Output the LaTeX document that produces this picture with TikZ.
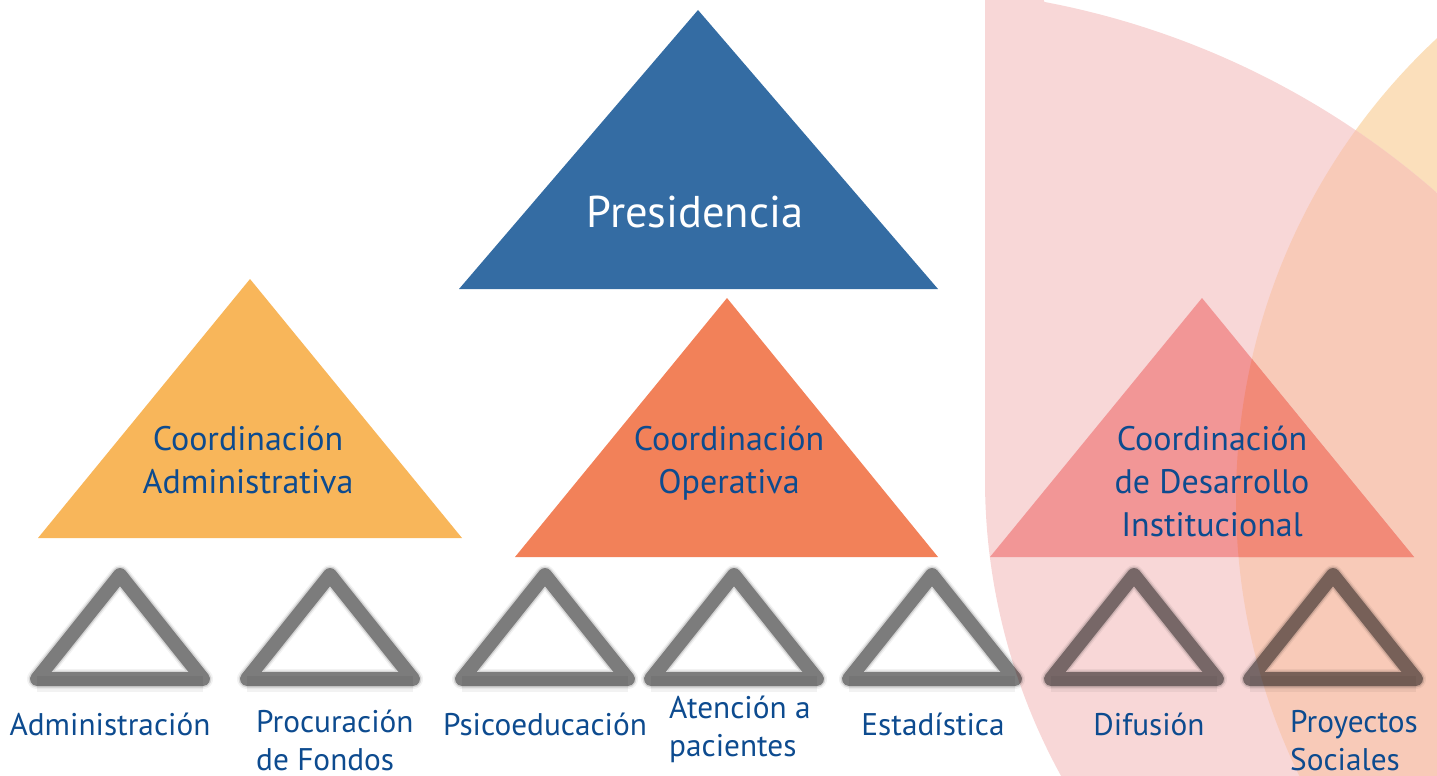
\documentclass[tikz,border=0pt]{standalone}
\usepackage{fontspec}
\setmainfont{PT Sans}
\definecolor{txtblue}{HTML}{0D4B8F}
\definecolor{presblue}{HTML}{346CA3}
\definecolor{admyel}{HTML}{F8B65A}
\definecolor{opor}{HTML}{F28159}
\definecolor{desp}{HTML}{F29696}
\definecolor{despo}{HTML}{F28A78}
\definecolor{pinkbg}{HTML}{F8D7D7}
\definecolor{orbg}{HTML}{FBDFBB}
\definecolor{peach}{HTML}{F8CAB8}
\tikzset{
 lbl/.style={text=txtblue, font=\fontsize{31.3}{38}\selectfont, align=left, inner sep=0pt},
 coordlbl/.style={text=txtblue, font=\fontsize{34}{43}\selectfont, align=center, inner sep=0pt},
 unitglowa/.style={draw=black, draw opacity=0.05, line width=20pt, line join=round},
 unitglowb/.style={draw=black, draw opacity=0.12, line width=17pt, line join=round},
 unitline/.style={draw=black, draw opacity=0.42, line width=14pt, line join=round},
 unitshadow/.style={draw=black, draw opacity=0.05, line width=16pt, line join=round}
}
\begin{document}
\begin{tikzpicture}[x=1pt,y=-1pt]
\useasboundingbox (0,0) rectangle (1437,776);
\clip (0,0) rectangle (1437,776);
\def\pinkpath{(985,-2) -- (985,480) arc[start angle=180, end angle=151.2, radius=614] -- (1437,780) -- (1437,193) arc[start angle=-48.8, end angle=-79.3, radius=830] -- (1043,-2) -- cycle}
% background shapes
\fill[orbg] (1867,500) circle[radius=631];
\fill[pinkbg] \pinkpath;
\begin{scope}
 \clip \pinkpath;
 \fill[peach] (1867,500) circle[radius=631];
\end{scope}
% coordination triangles
\fill[presblue] (459,289) -- (698,10) -- (938,289) -- cycle;
\fill[admyel] (38,538) -- (250,279) -- (462,538) -- cycle;
\fill[opor] (515,557) -- (727,298) -- (938,557) -- cycle;
\fill[desp] (990,557) -- (1202,298) -- (1414,557) -- cycle;
\begin{scope}
 \clip (1867,500) circle[radius=631];
 \fill[despo] (990,557) -- (1202,298) -- (1414,557) -- cycle;
\end{scope}
% unit triangles
\foreach \a in {120,330,545,734,932,1134,1333}{
 \draw[unitshadow] (\a-83,684) -- (\a+83,684);
 \draw[unitglowa] (\a-83,679) -- (\a,575) -- (\a+83,679) -- cycle;
 \draw[unitglowb] (\a-83,679) -- (\a,575) -- (\a+83,679) -- cycle;
 \draw[unitline] (\a-83,679) -- (\a,575) -- (\a+83,679) -- cycle;
}
% texts
\node[text=white, font=\fontsize{44.5}{50}\selectfont, inner sep=0pt, anchor=base] (pres) at (695,227) {Presidencia};
\node[coordlbl, anchor=base] (cadm) at (248,493) {Coordinación\\Administrativa};
\node[coordlbl, anchor=base] (cope) at (729,493) {Coordinación\\Operativa};
\node[coordlbl, anchor=base] (cdes) at (1212,536) {Coordinación\\de Desarrollo\\Institucional};
\node[lbl, anchor=base] (adm) at (110,735) {Administración};
\node[lbl, anchor=base west] (proc) at (256,770) {Procuración\\de Fondos};
\node[lbl, anchor=base] (psi) at (545,735) {Psicoeducación};
\node[lbl, anchor=base west] (ate) at (669,756) {Atención a\\pacientes};
\node[lbl, anchor=base] (est) at (933,735) {Estadística};
\node[lbl, anchor=base] (dif) at (1149,735) {Difusión};
\node[lbl, anchor=base west] (pro) at (1290,770) {Proyectos\\Sociales};
\end{tikzpicture}
\end{document}
